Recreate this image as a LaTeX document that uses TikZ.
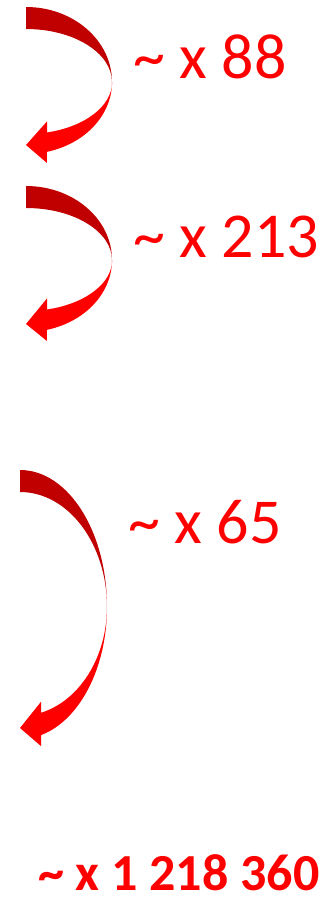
\documentclass[tikz,border=0pt]{standalone}
\usepackage{fontspec}
\setmainfont{Carlito}
\usepackage{tikz}
\definecolor{backred}{HTML}{C00000}
\definecolor{frontred}{HTML}{FF0000}

\begin{document}
\begin{tikzpicture}[
  x=1pt, y=-1pt,
  back/.style={fill=backred},
  front/.style={fill=frontred},
  factor/.style={anchor=base west, inner sep=0pt, text=frontred,
                 font=\fontsize{64}{76}\selectfont},
  total/.style={anchor=base west, inner sep=0pt, text=frontred,
                font=\fontsize{52}{62}\selectfont\bfseries}
]
  \useasboundingbox (0,0) rectangle (335,898);

  % curved arrows: left x / centre y / x radius / upper radii / lower radii / tip y
  \foreach \l/\c/\rx/\Ro/\Ri/\ro/\ri/\tip in {26/82/86/75/53/72/52/145,
                                               26/260/86/74/52/72/51/324,
                                               20/607/87/137/115/132/109/728}{
    \fill[back] (\l,\c-\Ro) arc[start angle=-90, end angle=0, x radius=\rx, y radius=\Ro]
      arc[start angle=0, end angle=-90, x radius=\rx, y radius=\Ri] -- cycle;
    \fill[front] (\l+\rx,\c) arc[start angle=0, end angle=76, x radius=\rx, y radius=\ro]
      -- ++(0,11) -- (\l,\tip) -- (\l+21,{\c+\ri*sin(76)-11})
      -- (\l+21,{\c+\ri*sin(76)})
      arc[start angle=76, end angle=0, x radius=\rx, y radius=\ri] -- cycle;
  }

  \node[factor] (f1) at (133,78) {\textasciitilde\ x 88};
  \node[factor] (f2) at (133,257) {\textasciitilde\ x 213};
  \node[factor] (f3) at (128,543) {\textasciitilde\ x 65};
  \node[total] (prod) at (38,890) {\textasciitilde\ x 1 218 360};
\end{tikzpicture}
\end{document}
